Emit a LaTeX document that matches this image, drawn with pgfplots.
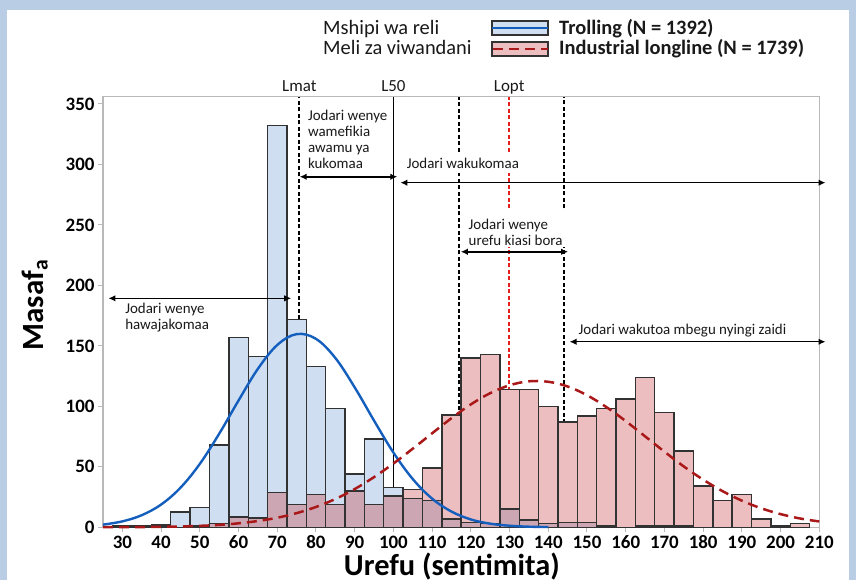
\documentclass[border=0pt]{standalone}
\usepackage{pgfplots}
\pgfplotsset{compat=1.18}
\usepackage{pgfplotstable}
\usepackage{fontspec}
\setmainfont{Carlito}
\usetikzlibrary{arrows.meta}

\definecolor{bgband}{RGB}{185,205,228}
\definecolor{trollfill}{RGB}{207,223,241}
\definecolor{indfill}{RGB}{237,190,192}
\definecolor{overfill}{RGB}{204,166,178}
\definecolor{barline}{RGB}{50,50,50}
\definecolor{curveblue}{RGB}{20,95,190}
\definecolor{curvered}{RGB}{170,25,25}
\definecolor{loptred}{RGB}{230,30,30}
\definecolor{axgray}{RGB}{185,185,185}
\definecolor{txt}{RGB}{25,25,25}

\newcommand\annfont{\fontsize{15}{16}\selectfont}
\newcommand\legfont{\fontsize{20.5}{22}\selectfont}
\tikzset{dbl/.style={{Latex[length=7bp,width=6.5bp]}-{Latex[length=7bp,width=6.5bp]}, line width=1.5bp}}

% Trolling histogram (bin centre, count)
\pgfplotstableread{
x y
30 1
35 1
40 2.5
45 12.5
50 16.5
55 68
60 157
65 141
70 332
75 172
80 133
85 98
90 44
95 73
100 33
105 24
110 22
115 7
120 4
125 3
130 15
135 6
140 3
145 4
150 4
155 1
165 1
170 1
175 1
}\troll

% Industrial longline histogram
\pgfplotstableread{
x y
35 1
40 1
50 1
55 3
60 8.6
65 7.7
70 29
75 19
80 27
85 19
90 30
95 19
100 26
105 31
110 49
115 93
120 140
125 143
130 114
135 114
140 100
145 87
150 92
155 98
160 106
165 124
170 95
175 63
180 34
185 22
190 27
195 7
200 1
205 3
}\ind

% overlap of the two histograms
\pgfplotstableread{
x y
35 1
40 1
50 1
55 3
60 8.6
65 7.7
70 29
75 19
80 27
85 19
90 30
95 19
100 26
105 24
110 22
115 7
120 4
125 3
130 15
135 6
140 3
145 4
150 4
155 1
165 1
170 1
175 1
}\over

% fitted curves
\pgfplotstableread{
x y
25 2.2
30 4.9
35 10.0
40 18.8
45 32.7
50 52.4
55 77.3
60 104.8
65 131.0
70 150.7
75 159.7
80 155.8
85 140.0
90 115.7
95 88.2
100 61.8
105 39.9
110 23.7
115 13.0
120 6.5
125 3.0
130 1.3
135 0.5
140 0.2
}\trollfit

\pgfplotstableread{
x y
25 0.06
30 0.12
35 0.22
40 0.40
45 0.71
50 1.2
55 2.0
60 3.3
65 5.2
70 7.9
75 11.7
80 16.8
85 23.4
90 31.6
95 41.5
100 52.7
105 65.0
110 77.7
115 90.2
120 101.6
125 110.9
130 117.4
135 120.7
140 120.3
145 116.4
150 109.2
155 99.4
160 87.8
165 75.2
170 62.5
175 50.3
180 39.4
185 29.9
190 22.0
195 15.7
200 10.9
205 7.3
210 4.8
}\indfit

\begin{document}
\begin{tikzpicture}[x=1bp,y=1bp]
\fill[bgband] (0,0) rectangle (856,580);
\fill[white] (7,0) rectangle (849,570);

\begin{axis}[
  at={(103bp,52.7bp)}, anchor=south west,
  scale only axis, width=716.3bp, height=430.6bp,
  xmin=25, xmax=210, ymin=0, ymax=356,
  enlargelimits=false, clip=false,
  xtick={30,40,...,210}, ytick={0,50,...,350},
  tick align=outside, tick pos=left,
  major tick length=5bp,
  axis line style={axgray, line width=1.2bp},
  tick style={axgray, line width=1bp},
  /pgf/number format/assume math mode=true,
  ticklabel style={font=\bfseries\fontsize{19}{19}\selectfont, text=black},
  xlabel={Urefu (sentimita)},
  ylabel={Masaf\textsubscript{a}},
  xlabel style={font=\bfseries\fontsize{30.5}{31}\selectfont, at={(axis description cs:0.487,-0.092)}, anchor=center},
  ylabel style={font=\bfseries\fontsize{31}{31}\selectfont, at={(axis description cs:-0.0949,0.516)}, anchor=center},
]

% reference lines (behind the bars)
\addplot[black, line width=2bp, dash pattern=on 4bp off 2.5bp] coordinates {(75.7,0) (75.7,356)};
\addplot[black, line width=1.8bp] coordinates {(100,0) (100,356)};
\addplot[black, line width=2bp, dash pattern=on 4bp off 2.5bp] coordinates {(117,0) (117,292.7)};
\addplot[black, line width=2bp, dash pattern=on 4bp off 2.5bp] coordinates {(117,310.5) (117,356)};
\addplot[loptred, line width=2bp, dash pattern=on 4bp off 2.5bp] coordinates {(129.9,0) (129.9,232.0)};
\addplot[loptred, line width=2bp, dash pattern=on 4bp off 2.5bp] coordinates {(129.9,263.7) (129.9,292.7)};
\addplot[loptred, line width=2bp, dash pattern=on 4bp off 2.5bp] coordinates {(129.9,310.5) (129.9,356)};
\addplot[black, line width=2bp, dash pattern=on 4bp off 2.5bp] coordinates {(144,0) (144,232.0)};
\addplot[black, line width=2bp, dash pattern=on 4bp off 2.5bp] coordinates {(144,263.7) (144,356)};

% histograms
\addplot[ybar, bar width=5, bar shift=0pt, fill=indfill, draw=barline, line width=1.4bp] table {\ind};
\addplot[ybar, bar width=5, bar shift=0pt, fill=trollfill, draw=barline, line width=1.4bp] table {\troll};
\addplot[ybar, bar width=5, bar shift=0pt, fill=overfill, draw=barline, line width=1.4bp] table {\over};

% fitted normal curves
\addplot[curveblue, line width=2.4bp, smooth, tension=0.6] table {\trollfit};
\addplot[curvered, line width=2.5bp, dash pattern=on 10bp off 6bp, smooth, tension=0.6] table {\indfit};

% arrows
\draw[dbl] (26.4,189.3) -- (73.6,189.3);
\draw[dbl] (75.8,289.8) -- (101,289.8);
\draw[dbl] (101.8,284.9) -- (211.6,284.9);
\draw[dbl] (117.4,227.8) -- (145.1,227.8);
\draw[dbl] (145.5,153.4) -- (211.6,153.4);

% annotation texts
\node[anchor=base west, inner sep=0, text=txt, font=\annfont] at (30.7,176.9) {Jodari wenye};
\node[anchor=base west, inner sep=0, text=txt, font=\annfont] at (30.7,163.7) {hawajakomaa};
\node[anchor=base west, inner sep=0, text=txt, font=\annfont] at (77.9,336.6) {Jodari wenye};
\node[anchor=base west, inner sep=0, text=txt, font=\annfont] at (77.9,323.4) {wamefikia};
\node[anchor=base west, inner sep=0, text=txt, font=\annfont] at (77.9,310.2) {awamu ya};
\node[anchor=base west, inner sep=0, text=txt, font=\annfont] at (77.9,296.9) {kukomaa};
\node[anchor=base west, inner sep=0, text=txt, font=\annfont] at (103.4,296.9) {Jodari wakukomaa};
\node[anchor=base west, inner sep=0, text=txt, font=\annfont] at (119.4,245.8) {Jodari wenye};
\node[anchor=base west, inner sep=0, text=txt, font=\annfont] at (119.4,232.6) {urefu kiasi bora};
\node[anchor=base west, inner sep=0, text=txt, font=\annfont] at (147.8,159.0) {Jodari wakutoa mbegu nyingi zaidi};

% line labels above the frame
\node[anchor=base, inner sep=0, text=txt, font=\fontsize{17}{17}\selectfont] at (75.7,360.3) {Lmat};
\node[anchor=base, inner sep=0, text=txt, font=\fontsize{17}{17}\selectfont] at (100,360.3) {L50};
\node[anchor=base, inner sep=0, text=txt, font=\fontsize{17}{17}\selectfont] at (129.9,360.3) {Lopt};
\end{axis}

% legend
\node[anchor=base west, inner sep=0, text=txt, font=\legfont] at (323,545.4) {Mshipi wa reli};
\node[anchor=base west, inner sep=0, text=txt, font=\legfont] at (323,525.4) {Meli za viwandani};
\filldraw[fill=trollfill, draw=barline, line width=1.2bp] (492,545) rectangle (548,559);
\draw[curveblue, line width=2.4bp] (492,552) -- (548,552);
\filldraw[fill=indfill, draw=barline, line width=1.2bp] (492,524) rectangle (548,538);
\draw[curvered, line width=2.5bp, dash pattern=on 10bp off 6bp] (493,531) -- (548,531);
\node[anchor=base west, inner sep=0, text=txt, font=\legfont\bfseries] at (559,545.4) {Trolling (N = 1392)};
\node[anchor=base west, inner sep=0, text=txt, font=\legfont\bfseries] at (559,525.4) {Industrial longline (N = 1739)};
\end{tikzpicture}
\end{document}
